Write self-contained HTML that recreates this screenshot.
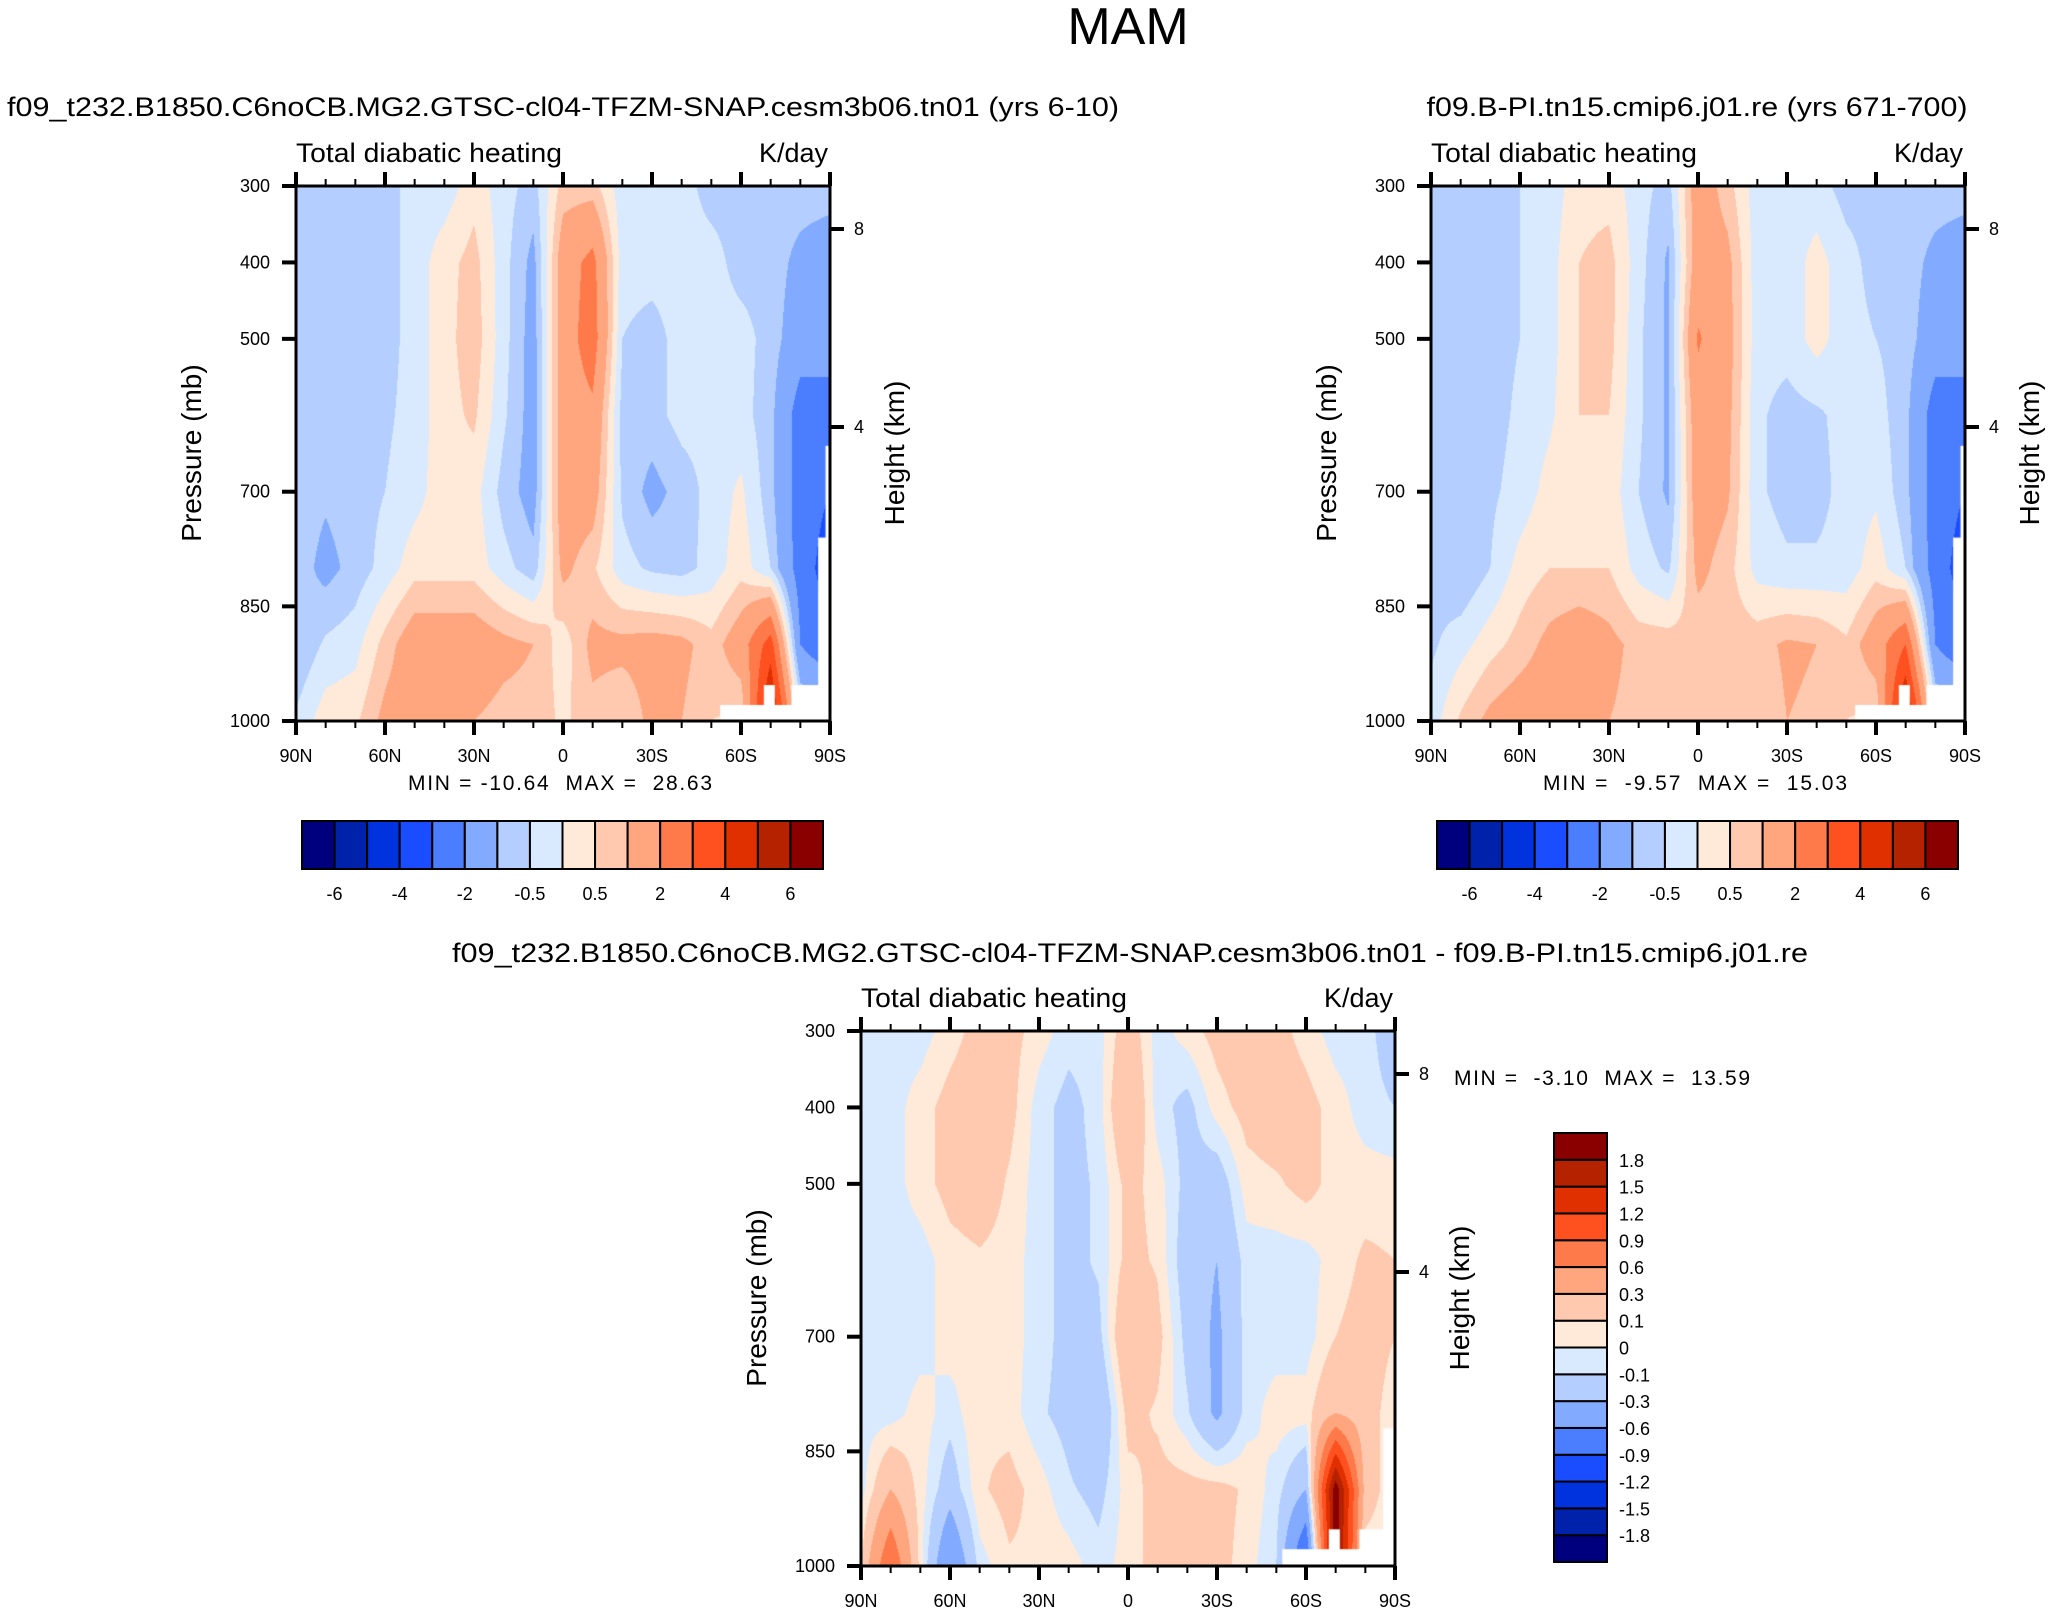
<!DOCTYPE html>
<html><head><meta charset="utf-8">
<style>
html,body{margin:0;padding:0;background:#fff;}
#wrap{position:relative;width:2053px;height:1616px;overflow:hidden;background:#fff;}
canvas{position:absolute;}
svg{position:absolute;left:0;top:0;}
text{font-family:"Liberation Sans",Arial,sans-serif;fill:#000;white-space:pre;}
</style></head>
<body>
<div id="wrap">
<canvas id="c1"></canvas>
<canvas id="c2"></canvas>
<canvas id="c3"></canvas>
<svg id="ov" width="2053" height="1616"></svg>
</div>
<script>
// ---- data ----
const lats = [90,80,70,60,50,40,30,20,10,0,-10,-20,-30,-40,-50,-60,-70,-80,-90];
const plevs = [300,400,500,600,700,800,900,1000];
const field1 = [
[-0.7,-0.7,-0.7,-0.7,-0.3,-0.3,0.3,-0.3,-0.7,0.7,0.7,-0.3,-0.3,-0.3,-0.7,-0.7,-0.7,-0.7,-0.7],
[-0.7,-0.7,-0.7,-0.7,-0.3,0.3,0.7,-0.3,-1.2,1.5,2.3,-0.3,-0.3,-0.3,-0.3,-0.7,-0.7,-1.2,-1.5],
[-0.7,-0.7,-0.7,-0.7,-0.3,0.3,0.8,-0.3,-1.3,1.5,2.5,-0.5,-0.7,-0.3,-0.3,-0.3,-0.7,-1.5,-1.5],
[-0.7,-0.7,-0.7,-0.6,-0.3,0.3,0.6,-0.4,-1.3,1.5,1.8,-0.7,-0.7,-0.3,-0.3,-0.3,-0.8,-2.5,-2.5],
[-0.7,-0.9,-0.7,-0.5,-0.2,0.3,0.2,-0.7,-1.3,1.5,1.4,-0.6,-1.2,-0.8,-0.3,0.1,-0.8,-2.5,-3],
[-0.7,-1.2,-0.8,-0.3,0.3,0.3,0.3,-0.3,-0.8,1.2,0.6,-0.3,-0.6,-0.7,-0.3,0.3,-0.5,-2.5,-3.5],
[-1.0,-0.4,-0.2,0.7,1.5,1.5,1.5,1.2,1.0,0.2,1.2,1.2,1.3,1.2,0.7,1.5,3.5,-2,-3],
[-0.4,0.3,0.4,1.2,1.5,1.2,1.0,0.8,0.8,0.4,0.8,0.5,1.2,1.0,0.5,0.4,5.5,0,0]];
const field2 = [
[-0.7,-0.7,-0.7,-0.5,-0.3,0.3,0.3,-0.3,-0.7,1.5,0.7,-0.3,-0.3,-0.3,-0.7,-0.7,-0.7,-0.7,-0.7],
[-0.7,-0.7,-0.7,-0.5,-0.2,0.5,0.7,-0.3,-1.1,1.5,1.2,-0.3,-0.3,0.2,-0.3,-0.7,-0.7,-1.2,-1.5],
[-0.7,-0.7,-0.7,-0.5,-0.2,0.5,0.7,-0.4,-1.1,2.1,1.3,-0.3,-0.3,0.2,-0.3,-0.5,-0.7,-1.5,-1.5],
[-0.7,-0.7,-0.7,-0.4,-0.1,0.5,0.5,-0.4,-1.1,1.6,1.2,-0.4,-0.7,-0.6,-0.3,-0.3,-0.8,-2.5,-2.5],
[-0.7,-0.8,-0.6,-0.3,0.2,0.5,0.3,-0.5,-1.1,1.5,1.1,-0.4,-0.7,-0.7,-0.3,-0.1,-0.8,-2.5,-3],
[-0.7,-1.0,-0.5,0.2,0.5,0.5,0.5,-0.2,-0.6,1.2,0.7,-0.2,-0.4,-0.4,-0.3,0.3,-0.5,-2.5,-3.5],
[-0.6,-0.2,0.3,0.7,1.2,1.5,1.2,0.8,0.8,0.6,0.8,0.8,1.1,1.0,0.6,1.5,3.0,-2,-3],
[-0.3,0.6,1.2,1.5,1.5,1.3,1.0,0.8,0.8,0.6,0.8,0.6,1.0,0.9,0.5,0.4,5.5,0,0]];
const field3 = [
[-0.05,-0.05,-0.05,0.05,0.15,0.15,0.05,-0.05,-0.05,0.2,-0.05,0.05,0.15,0.2,0.15,0.05,-0.05,-0.05,-0.2],
[-0.05,-0.05,0.05,0.15,0.2,0.15,-0.05,-0.15,-0.05,0.3,-0.05,-0.15,0.05,0.15,0.2,0.15,0.05,-0.05,-0.1],
[-0.05,-0.05,0.05,0.15,0.2,0.08,-0.05,-0.15,-0.08,0.15,0.05,-0.15,-0.2,0.05,0.08,0.15,0.05,0.05,0.05],
[-0.05,-0.05,-0.05,0.05,0.08,0.05,-0.05,-0.15,-0.08,0.15,0.08,-0.2,-0.3,-0.05,-0.05,-0.05,0.05,0.12,0.1],
[-0.05,-0.08,-0.05,0.05,0.05,0.05,-0.05,-0.15,-0.15,0.3,0.15,-0.15,-0.35,-0.05,-0.05,-0.05,0.1,0.15,0.1],
[-0.05,-0.05,0.05,-0.05,0.08,0.05,-0.08,-0.15,-0.3,0.15,0.08,-0.08,-0.35,-0.05,0.05,0.05,0.3,0.15,0.05],
[-0.05,0.3,0.05,-0.2,0.08,0.15,0.05,-0.08,-0.15,0.05,0.15,0.15,0.15,0.08,-0.05,-0.3,2.0,0.2,0],
[0.1,0.9,0.05,-0.6,-0.05,0.08,0.08,0.05,-0.05,0.05,0.15,0.2,0.15,0.05,-0.1,-1.0,2.0,0,0]];
const levels12 = [-6,-5,-4,-3,-2,-1,-0.5,0,0.5,1,2,3,4,5,6];
const labels12 = ["-6","-4","-2","-0.5","0.5","2","4","6"];
const levels3 = [-1.8,-1.5,-1.2,-0.9,-0.6,-0.3,-0.1,0,0.1,0.3,0.6,0.9,1.2,1.5,1.8];
const labels3 = ["-1.8","-1.5","-1.2","-0.9","-0.6","-0.3","-0.1","0","0.1","0.3","0.6","0.9","1.2","1.5","1.8"];
const palette = ["#00007f","#0022aa","#0033dd","#1a4dff","#4a7dff","#82aaff","#b3ceff","#d9eaff","#ffead9","#ffc9b0","#ffa67e","#ff7a4a","#ff5020","#e03000","#b52200","#8a0000"];
// below-ground mask: [latA, latB, pTop]
const mask12 = [[-53,-90,979],[-67.7,-71.4,953],[-77,-90,953],[-86,-90,760],[-88.5,-90,640]];
const mask3 = [[-52,-90,978],[-67.7,-71.4,952],[-78,-90,952],[-86,-90,820]];
const xLabels = ["90N","60N","30N","0","30S","60S","90S"];
const xTickLats = [90,60,30,0,-30,-60,-90];
const pTicks = [300,400,500,700,850,1000];

const NS="http://www.w3.org/2000/svg";
const ov=document.getElementById('ov');
function el(tag,attrs,parent){const e=document.createElementNS(NS,tag);for(const k in attrs)e.setAttribute(k,attrs[k]);(parent||ov).appendChild(e);return e;}
function txt(s,x,y,size,anchor,name,extra){const t=el('text',Object.assign({x:x,y:y,'font-size':size,'text-anchor':anchor||'middle'},extra||{}));t.textContent=s;


return t;}

function colorIdx(v,lv){let i=0;while(i<lv.length&&v>=lv[i])i++;return i;}
function sample(f,lat,p){
  let fx=(90-lat)/10; let fy=(p-300)/100;
  let i=Math.min(Math.floor(fx),17), j=Math.min(Math.floor(fy),6);
  let tx=fx-i, ty=fy-j;
  const a=f[j][i],b=f[j][i+1],c=f[j+1][i],d=f[j+1][i+1];
  return (a*(1-tx)+b*tx)*(1-ty)+(c*(1-tx)+d*tx)*ty;
}
function hex(h){return [parseInt(h.substr(1,2),16),parseInt(h.substr(3,2),16),parseInt(h.substr(5,2),16)];}
const rgb=palette.map(hex);

function panel(cfg){
  const X0=cfg.x, Y0=cfg.y, W=534, H=535;
  const xOf=lat=>X0+(90-lat)/180*W;
  const yOf=p=>Y0+(p-300)/700*H;
  const cv=document.getElementById(cfg.canvas);
  cv.width=W;cv.height=H;cv.style.left=X0+'px';cv.style.top=Y0+'px';
  const ctx=cv.getContext('2d');
  const img=ctx.createImageData(W,H);
  for(let py=0;py<H;py++){
    const p=300+(py+0.5)/H*700;
    for(let px=0;px<W;px++){
      const lat=90-(px+0.5)/W*180;
      const v=sample(cfg.field,lat,p);
      const c=rgb[colorIdx(v,cfg.levels)];
      const k=(py*W+px)*4;img.data[k]=c[0];img.data[k+1]=c[1];img.data[k+2]=c[2];img.data[k+3]=255;
    }
  }
  ctx.putImageData(img,0,0);
  ctx.fillStyle='#fff';
  cfg.mask.forEach(m=>{const xa=xOf(m[0])-X0,xb=xOf(m[1])-X0,ya=yOf(m[2])-Y0;ctx.fillRect(xa,ya,xb-xa,H-ya);});
  const g=el('g',{});
  
  
  el('rect',{x:X0,y:Y0,width:W,height:H,fill:'none',stroke:'#000','stroke-width':3},g);
  for(let lat=90;lat>=-90;lat-=10){
    const major=lat%30===0; const L=major?14:7; const x=xOf(lat);
    el('line',{x1:x,y1:Y0,x2:x,y2:Y0-L,stroke:'#000','stroke-width':major?4:2},g);
    el('line',{x1:x,y1:Y0+H,x2:x,y2:Y0+H+L,stroke:'#000','stroke-width':major?4:2},g);
  }
  xTickLats.forEach((lat,i)=>{txt(xLabels[i],xOf(lat),Y0+H+41,18,'middle','x-tick-label');});
  pTicks.forEach(p=>{const y=yOf(p);el('line',{x1:X0-14,y1:y,x2:X0,y2:y,stroke:'#000','stroke-width':4},g);
    txt(String(p),X0-26,y+6,18,'end','y-tick-label');});
  [[8,yOf(300)+43],[4,yOf(300)+241]].forEach(h=>{el('line',{x1:X0+W,y1:h[1],x2:X0+W+14,y2:h[1],stroke:'#000','stroke-width':4},g);
    txt(String(h[0]),X0+W+24,h[1]+6,18,'start','height-tick-label');});
  txt('Pressure (mb)',0,0,28,'middle','y-axis-title',{transform:`translate(${X0-95},${Y0+267}) rotate(-90)`});
  txt('Height (km)',0,0,28,'middle','right-axis-title',{transform:`translate(${X0+W+74},${Y0+267}) rotate(-90)`});
  txt('Total diabatic heating',X0,Y0-24,27,'start','panel-subtitle',{textLength:266,lengthAdjust:'spacingAndGlyphs'});
  txt('K/day',X0+W-2,Y0-24,27,'end','units-label');
}

panel({canvas:'c1',x:296,y:186,field:field1,levels:levels12,mask:mask12,name:'panel-model'});
panel({canvas:'c2',x:1431,y:186,field:field2,levels:levels12,mask:mask12,name:'panel-reference'});
panel({canvas:'c3',x:861,y:1031,field:field3,levels:levels3,mask:mask3,name:'panel-difference'});

txt('MAM',1128,44,52,'middle','figure-title');
txt('f09_t232.B1850.C6noCB.MG2.GTSC-cl04-TFZM-SNAP.cesm3b06.tn01 (yrs 6-10)',563,116,27,'middle','panel-1-title',{textLength:1112,lengthAdjust:'spacingAndGlyphs'});
txt('f09.B-PI.tn15.cmip6.j01.re (yrs 671-700)',1697,116,27,'middle','panel-2-title',{textLength:541,lengthAdjust:'spacingAndGlyphs'});
txt('f09_t232.B1850.C6noCB.MG2.GTSC-cl04-TFZM-SNAP.cesm3b06.tn01 - f09.B-PI.tn15.cmip6.j01.re',1130,962,27,'middle','panel-3-title',{textLength:1356,lengthAdjust:'spacingAndGlyphs'});
txt('MIN = -10.64  MAX =  28.63',560,790,21,'middle','stats-label-1',{textLength:304,lengthAdjust:'spacing'});
txt('MIN =  -9.57  MAX =  15.03',1695,790,21,'middle','stats-label-2',{textLength:304,lengthAdjust:'spacing'});
txt('MIN =  -3.10  MAX =  13.59',1454,1085,21,'start','stats-label-3',{textLength:296,lengthAdjust:'spacing'});

function hbar(x0,y0,w,h,name){
  const g=el('g',{});
  
  
  const bw=w/palette.length;
  palette.forEach((c,i)=>{el('rect',{x:x0+i*bw,y:y0,width:bw,height:h,fill:c,stroke:'#000','stroke-width':2},g);});
  labels12.forEach((s,k)=>{const i=2*k+1;txt(s,x0+i*bw,y0+h+31,18,'middle','colorbar-label');});
}
hbar(302,821,521,48,'colorbar-1');
hbar(1437,821,521,48,'colorbar-2');
(function(){
  const x0=1554,y0=1133,w=53,h=429;
  const g=el('g',{});
  
  
  const bh=h/palette.length;
  palette.forEach((c,i)=>{el('rect',{x:x0,y:y0+h-(i+1)*bh,width:w,height:bh,fill:c,stroke:'#000','stroke-width':2},g);});
  labels3.forEach((s,i)=>{txt(s,x0+w+12,y0+h-(i+1)*bh+7,18,'start','colorbar-label');});
})();
</script>
</body></html>
